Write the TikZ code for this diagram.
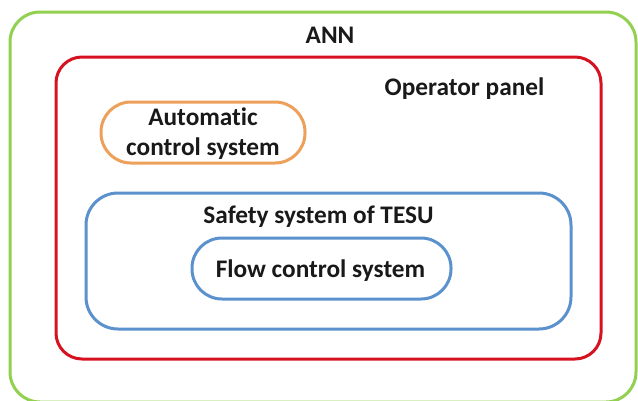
\documentclass[tikz,border=0pt]{standalone}
\usepackage{fontspec}
\setmainfont{Carlito}[Ligatures=NoCommon]
\definecolor{anngreen}{RGB}{146,208,80}
\definecolor{opred}{RGB}{214,18,32}
\definecolor{acorange}{RGB}{236,160,90}
\definecolor{sysblue}{RGB}{91,145,205}
\begin{document}
\begin{tikzpicture}[x=1pt,y=-1pt,
  box/.style={draw,line width=3pt,rectangle,inner sep=0pt,outer sep=0pt},
  lbl/.style={font=\fontsize{25.3}{30}\selectfont\bfseries,inner sep=0pt,align=center,text=black!90}]
\useasboundingbox (0,0) rectangle (638,400);
\begin{scope}
\clip (0,0) rectangle (638,400);
\node[box,draw=anngreen,rounded corners=30pt,minimum width=626pt,minimum height=390pt] (ann) at (323,207) {};
\end{scope}
\node[box,draw=opred,rounded corners=26pt,minimum width=545pt,minimum height=302pt] (op) at (328.5,208) {};
\node[box,draw=acorange,rounded corners=30pt,minimum width=204pt,minimum height=61pt] (acs) at (203,132.5) {};
\node[box,draw=sysblue,rounded corners=32pt,minimum width=485pt,minimum height=136pt] (safe) at (328.5,261) {};
\node[box,draw=sysblue,rounded corners=30pt,minimum width=259pt,minimum height=61pt] (flow) at (321.5,268.5) {};
\node[lbl,anchor=base] (annl) at (330,43) {ANN};
\node[lbl,anchor=base] (opl) at (464.5,95) {Operator panel};
\node[lbl,anchor=base] (acs1) at (203,125) {Automatic};
\node[lbl,anchor=base] (acs2) at (203,155) {control system};
\node[lbl,anchor=base] (safel) at (318.5,223) {Safety system of TESU};
\node[lbl,anchor=base] (flowl) at (320.5,277) {Flow control system};
\end{tikzpicture}
\end{document}
